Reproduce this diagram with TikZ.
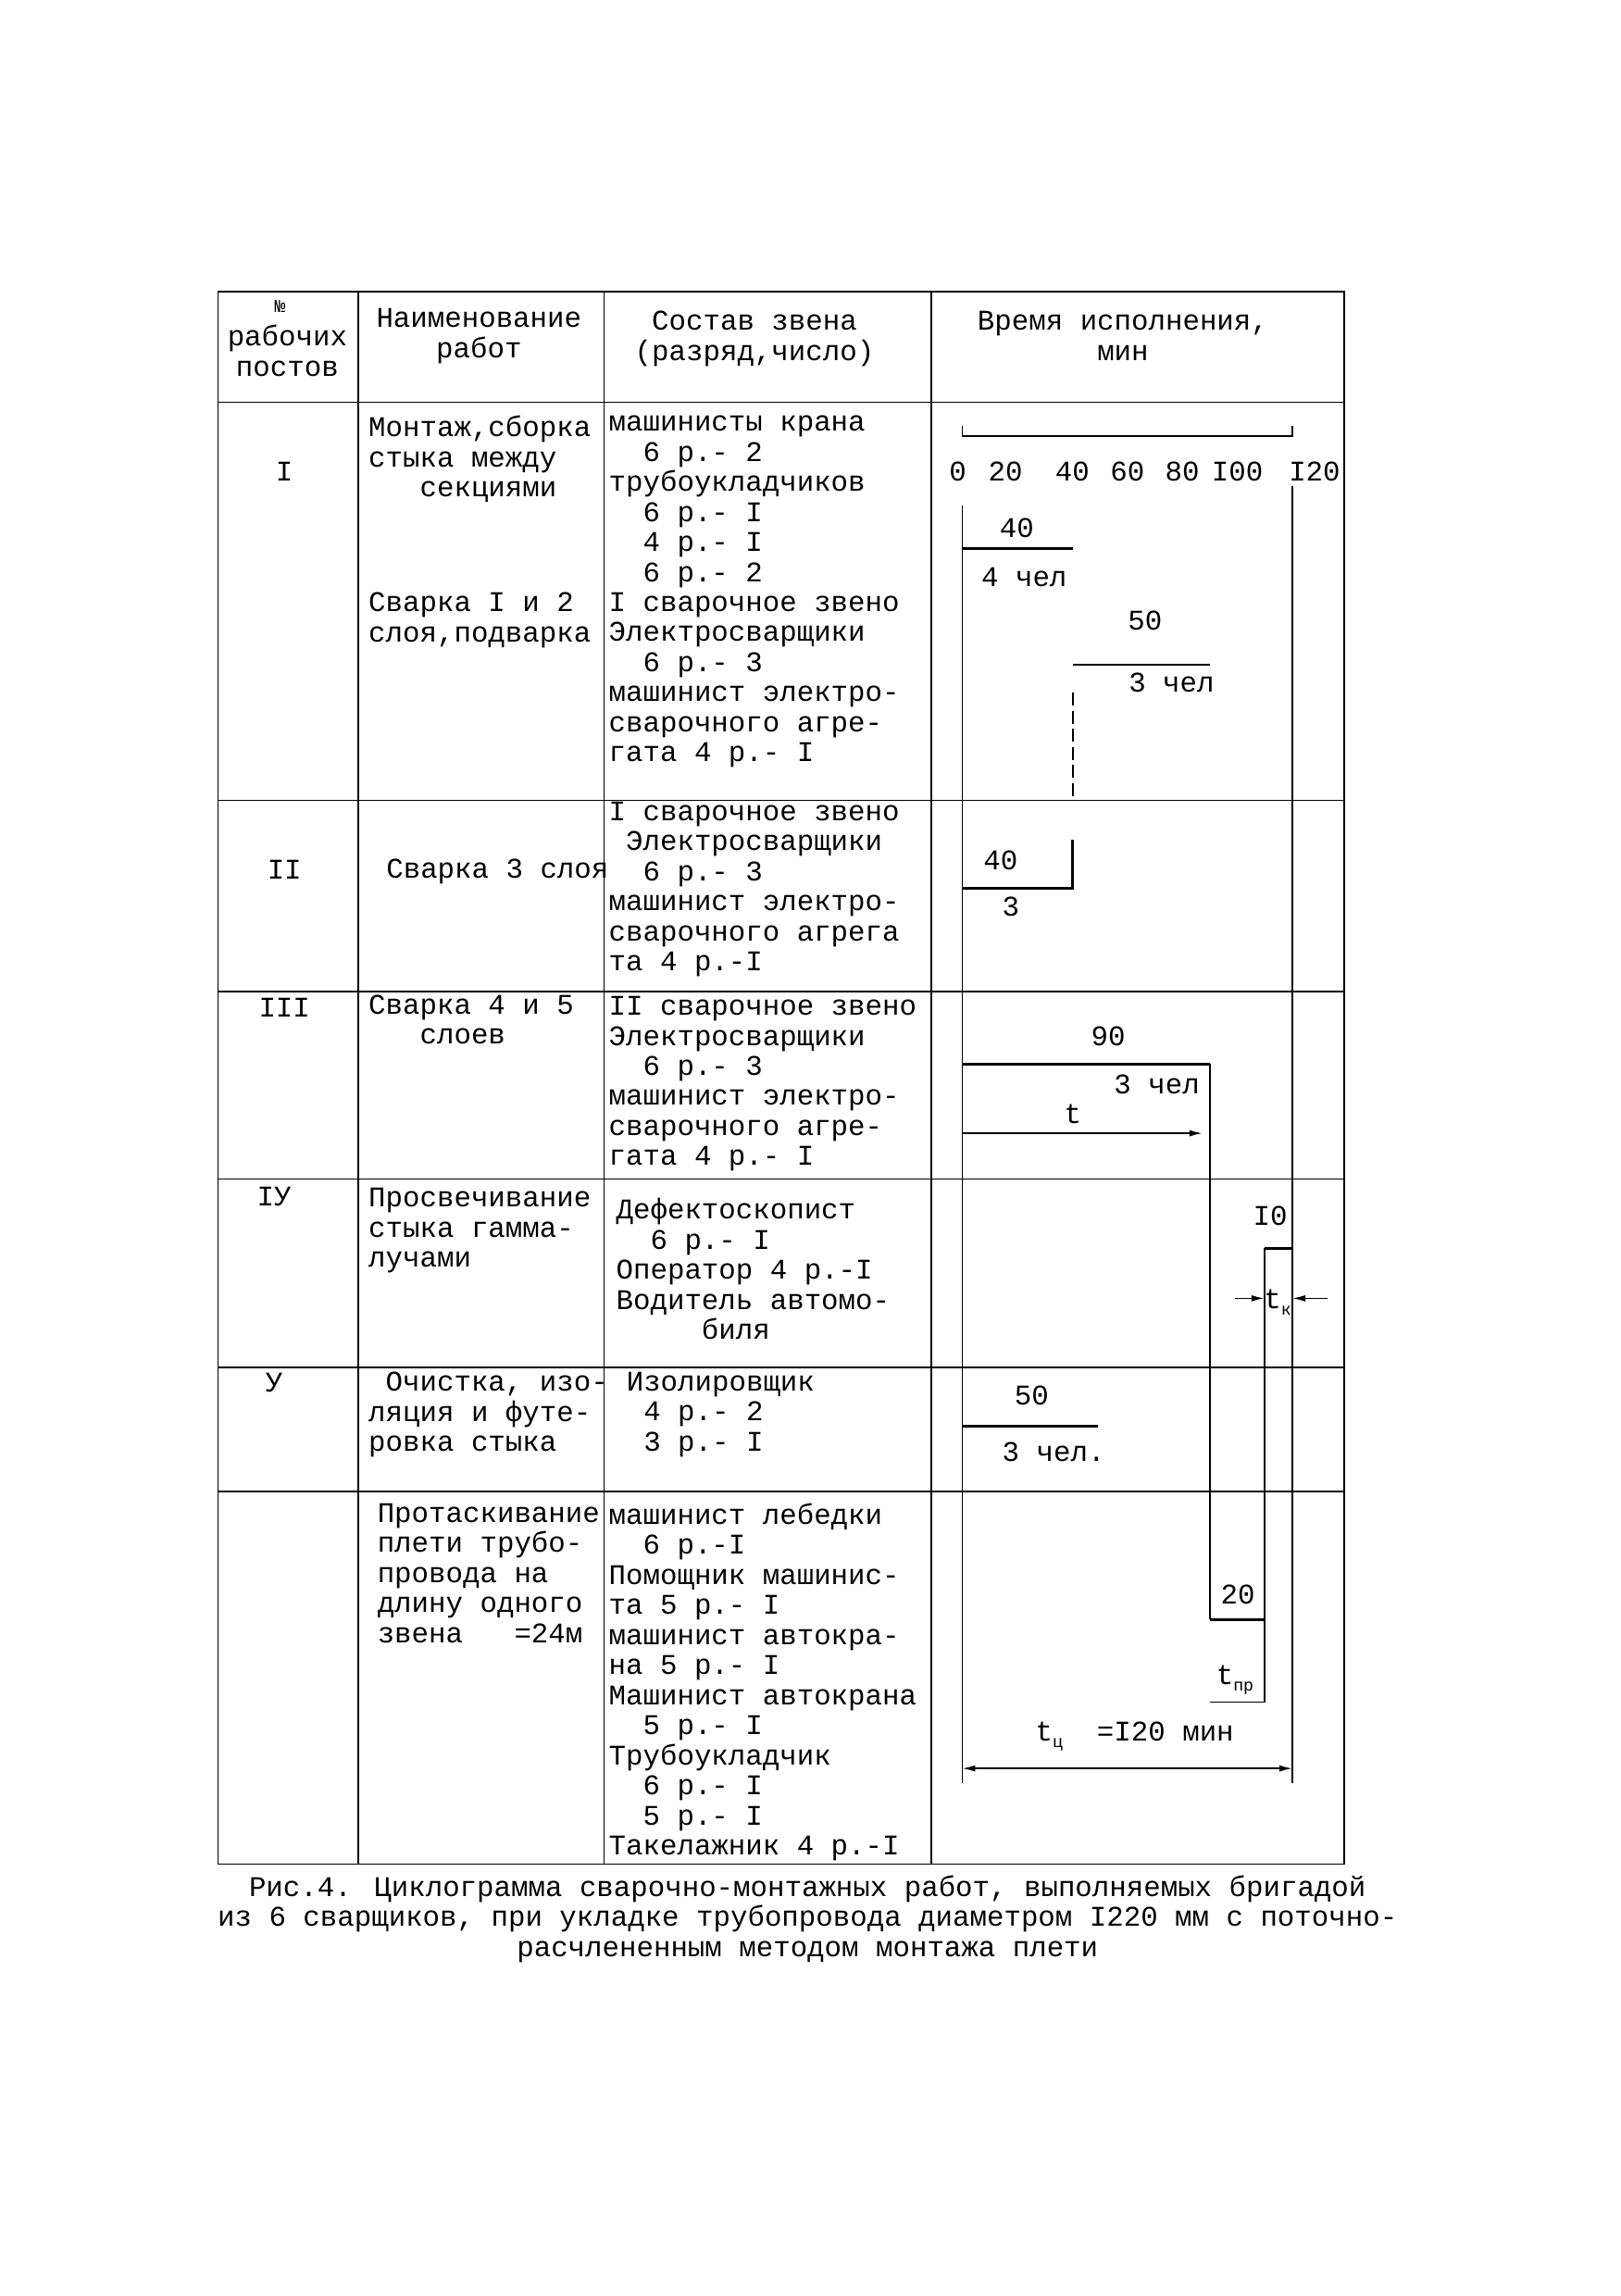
\documentclass[tikz,border=0pt]{standalone}
\usepackage{fontspec}
\setmainfont{Liberation Mono}
\usetikzlibrary{arrows.meta}

\tikzset{
  txt/.style = {anchor=north west, align=left, inner sep=0pt,
                font=\fontsize{22}{23.2}\selectfont},
  ctr/.style = {inner sep=1pt, font=\fontsize{22}{23.2}\selectfont},
  rule/.style = {line width=1.2pt},
  bar/.style = {line width=2pt},
  dim/.style = {line width=1.2pt, -{Latex[length=10pt,width=5pt]}},
}
\newcommand{\subidx}[1]{\raisebox{-5pt}{\fontsize{13}{13}\selectfont #1}}

\begin{document}
\begin{tikzpicture}[x=0.04cm, y=-0.04cm]
   \useasboundingbox (0,0) rectangle (1100,1558);
   % table frame
   \draw[rule] (148,198) rectangle (912,1265);
   \foreach \c in {243,410,632} \draw[rule] (\c,198) -- (\c,1265);
   \foreach \r in {273,543,673,800,928,1012} \draw[rule] (148,\r) -- (912,\r);
   % header
   \node[ctr] (hNo)   at (190,208) {\fontsize{14}{14}\selectfont №};
   \node[ctr, align=center] (hPost) at (195,238) {рабочих\\постов};
   \node[ctr, align=center] (hWork) at (325,228) {Наименование\\работ};
   \node[ctr, align=center] (hTeam) at (512,230) {Состав звена\\(разряд,число)};
   \node[ctr, align=center] (hTime) at (762,228) {Время исполнения,\\мин};
   % post numbers
   \node[ctr] (p1) at (193,320) {I};
   \node[ctr] (p2) at (193,590) {II};
   \node[ctr] (p3) at (193,684) {III};
   \node[ctr] (p4) at (186,812) {IУ};
   \node[ctr] (p5) at (186,938) {У};
   % works
   \node[txt] (w1a) at (250,282) {Монтаж,сборка\\стыка между\\\ \ \ секциями};
   \node[txt] (w1b) at (250,402) {Сварка I и 2\\слоя,подварка};
   \node[txt] (w2)  at (262,583) {Сварка 3 слоя};
   \node[txt] (w3)  at (250,675) {Сварка 4 и 5\\\ \ \ слоев};
   \node[txt] (w4)  at (250,806) {Просвечивание\\стыка гамма-\\лучами};
   \node[txt] (w5)  at (250,931) {\ Очистка, изо-\\ляция и футе-\\ровка стыка};
   \node[txt] (w6)  at (256,1020) {Протаскивание\\плети трубо-\\провода на\\длину одного\\звена\ \ \ =24м};
   % teams
   \node[txt] (t1) at (413,282) {машинисты крана\\\ \ 6 р.- 2\\трубоукладчиков\\\ \ 6 р.- I\\\ \ 4 р.- I\\\ \ 6 р.- 2\\I сварочное звено\\Электросварщики\\\ \ 6 р.- 3\\машинист электро-\\сварочного агре-\\гата 4 р.- I};
   \node[txt] (t2) at (413,544) {I сварочное звено\\\ Электросварщики\\\ \ 6 р.- 3\\машинист электро-\\сварочного агрега\\та 4 р.-I};
   \node[txt] (t3) at (413,676) {II сварочное звено\\Электросварщики\\\ \ 6 р.- 3\\машинист электро-\\сварочного агре-\\гата 4 р.- I};
   \node[txt] (t4) at (418,813) {Дефектоскопист\\\ \ 6 р.- I\\Оператор 4 р.-I\\Водитель автомо-\\\ \ \ \ \ биля};
   \node[txt] (t5) at (425,931) {Изолировщик\\\ 4 р.- 2\\\ 3 р.- I};
   \node[txt] (t6) at (413,1020) {машинист лебедки\\\ \ 6 р.-I\\Помощник машинис-\\та 5 р.- I\\машинист автокра-\\на 5 р.- I\\Машинист автокрана\\\ \ 5 р.- I\\Трубоукладчик\\\ \ 6 р.- I\\\ \ 5 р.- I\\Такелажник 4 р.-I};
   % time scale
   \coordinate (s0) at (653,296);
   \coordinate (s120) at (877,296);
   \draw[rule] ([yshift=8]s0) -- (s0) -- (s120) -- ([yshift=8]s120);
   \foreach \t/\lab/\dx in {0/0/-3,20/20/-8,40/40/0,60/60/0,80/80/0,100/I00/0,120/I20/15}
     \node[ctr] (tick\t) at ({653+1.867*\t+\dx},320) {\lab};
   % chart points
   \coordinate (z0) at (653,343);
   \coordinate (z1) at (653,1210);
   \coordinate (e0) at (877,330);
   \coordinate (e1) at (877,1210);
   \draw[rule] (z0) -- (z1);
   \draw[rule] (e0) -- (e1);
   % post I
   \coordinate (a0) at (653,372); \coordinate (a1) at (728,372);
   \draw[bar] (a0) -- (a1);
   \node[ctr] (n40a) at (690,358) {40};
   \node[ctr] (c4) at (695,392) {4 чел};
   \coordinate (b0) at (728,451); \coordinate (b1) at (821,451);
   \draw[bar] (b0) -- (b1);
   \node[ctr] (n50a) at (777,421) {50};
   \node[ctr] (c3a) at (795,463) {3 чел};
   \coordinate (d0) at (728,470); \coordinate (d1) at (728,540);
   \draw[rule, dash pattern=on 10pt off 4pt] (d0) -- (d1);
   % post II
   \coordinate (f0) at (653,603); \coordinate (f1) at (728,603); \coordinate (f2) at (728,570);
   \draw[bar] (f0) -- (f1) -- (f2);
   \node[ctr] (n40b) at (679,584) {40};
   \node[ctr] (c3b) at (686,615) {3};
   % post III
   \coordinate (g0) at (653,722); \coordinate (g1) at (821,722); \coordinate (g2) at (821,1099);
   \draw[bar] (g0) -- (g1);
   \draw[rule] (g1) -- (g2);
   \node[ctr] (n90) at (752,703) {90};
   \node[ctr] (c3c) at (785,736) {3 чел};
   \coordinate (h0) at (653,769); \coordinate (h1) at (816,769);
   \draw[dim] (h0) -- (h1);
   \node[ctr] (lt) at (728,756) {t};
   % post IV
   \coordinate (k0) at (858,847); \coordinate (k1) at (877,847); \coordinate (k2) at (858,1155);
   \draw[bar] (k1) -- (k0);
   \draw[rule] (k0) -- (k2);
   \node[ctr] (n10) at (862,825) {I0};
   \coordinate (m0) at (838,881); \coordinate (m1) at (901,881);
   \coordinate (m2) at (858,881); \coordinate (m3) at (877,881);
   \draw[dim] (m0) -- (m2);
   \draw[dim] (m1) -- (m3);
   \node[ctr] (ltk) at (867,884) {t\subidx{к}};
   % post V
   \coordinate (q0) at (653,968); \coordinate (q1) at (745,968);
   \draw[bar] (q0) -- (q1);
   \node[ctr] (n50b) at (700,947) {50};
   \node[ctr] (c3d) at (715,985) {3 чел.};
   % post VI
   \coordinate (r0) at (821,1099); \coordinate (r1) at (858,1099);
   \draw[bar] (r0) -- (r1);
   \coordinate (r2) at (821,1155);
   \draw[rule] (r2) -- (k2);
   \node[ctr] (n20) at (840,1082) {20};
   \node[ctr] (ltp) at (838,1140) {t\subidx{пр}};
   % cycle
   \coordinate (u0) at (653,1200); \coordinate (u1) at (877,1200);
   \draw[rule, {Latex[length=10pt,width=5pt]}-{Latex[length=10pt,width=5pt]}] (u0) -- (u1);
   \node[ctr] (ltc) at (770,1178) {t\subidx{ц}\ \ =I20 мин};
   % caption
   \node[ctr, align=center] (cap) at (548,1302) {Рис.4. Циклограмма сварочно-монтажных работ, выполняемых бригадой\\из 6 сварщиков, при укладке трубопровода диаметром I220 мм с поточно-\\расчлененным методом монтажа плети};
\end{tikzpicture}
\end{document}
